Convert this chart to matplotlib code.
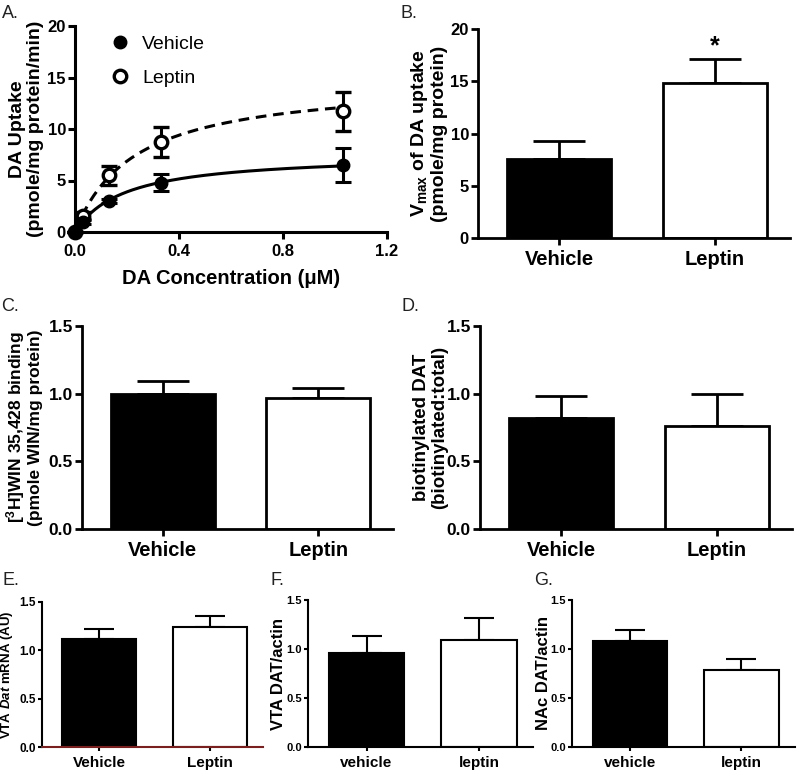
import matplotlib
matplotlib.use("Agg")
import matplotlib.pyplot as plt
import numpy as np
from matplotlib.lines import Line2D

plt.rcParams['font.family'] = ['Liberation Sans', 'DejaVu Sans']
plt.rcParams['font.weight'] = 'bold'
plt.rcParams['mathtext.fontset'] = 'custom'
plt.rcParams['mathtext.rm'] = 'Liberation Sans:bold'
plt.rcParams['mathtext.bf'] = 'Liberation Sans:bold'
plt.rcParams['mathtext.it'] = 'Liberation Sans:bold:italic'

# Panel A: uptake kinetics
conc = [0, 0.03, 0.13, 0.33, 1.03]
veh_uptake = [0, 1.0, 3.0, 4.8, 6.5]
veh_err = [0, 0.2, 0.2, 0.85, 1.65]
lep_uptake = [0, 1.6, 5.5, 8.7, 11.7]
lep_err = [0, 0.3, 0.95, 1.45, 1.9]
km = {"Vehicle": 0.19, "Leptin": 0.23}

# Bar panels (mean, SEM) : Vehicle, Leptin
groups_upper = ["Vehicle", "Leptin"]
groups_lower = ["vehicle", "leptin"]
vmax_mean = [7.6, 14.8]
vmax_err = [1.65, 2.3]
win_mean = [0.997, 0.965]
win_err = [0.095, 0.08]
biot_mean = [0.817, 0.763]
biot_err = [0.167, 0.234]
mrna_mean = [1.117, 1.239]
mrna_err = [0.105, 0.115]
vta_mean = [0.963, 1.095]
vta_err = [0.165, 0.226]
nac_mean = [1.08, 0.79]
nac_err = [0.11, 0.11]

W, H = 800, 770
fig = plt.figure(figsize=(W / 100, H / 100), dpi=100)


def px_axes(l, t, r, b):
    return fig.add_axes([l / W, 1 - b / H, (r - l) / W, (b - t) / H])


def place_ylabel(ax, right_px):
    # put the right edge of the y label block at a given pixel column
    l = ax.get_position().x0 * W
    w = ax.get_position().width * W
    ax.yaxis.set_label_coords((right_px - l) / w, 0.5)


def style(ax, lw=2.0, tick_size=11, tick_len=5, pad=1.5):
    for s in ("top", "right"):
        ax.spines[s].set_visible(False)
    for s in ("left", "bottom"):
        ax.spines[s].set_linewidth(lw)
    ax.tick_params(width=lw, length=tick_len, labelsize=tick_size, direction="out", pad=pad)
    for lab in ax.get_xticklabels() + ax.get_yticklabels():
        lab.set_fontweight("bold")


def bar_panel(ax, labels, mean, err, yticks, ylim, fmt, lw, cap, cat_size, tick_size,
              tick_len, pad=1.5):
    x = np.arange(len(labels))
    ax.bar(x, mean, width=0.67, color=["black", "white"], edgecolor="black",
           linewidth=lw, zorder=2)
    ax.errorbar(x, mean, yerr=[np.zeros(len(err)), err], fmt="none", ecolor="black",
                elinewidth=lw, capsize=cap, capthick=lw, zorder=1)
    ax.set_xlim(-0.52, 1.48)
    ax.set_ylim(*ylim)
    ax.set_yticks(yticks)
    ax.set_yticklabels([fmt.format(v) for v in yticks])
    ax.set_xticks(x)
    style(ax, lw=lw, tick_size=tick_size, tick_len=tick_len, pad=pad)
    ax.set_xticklabels(labels, fontsize=cat_size, fontweight="bold")
    ax.tick_params(axis="x", pad=pad + 2)


# ---- A ----
axA = px_axes(75, 26, 387, 232)
xs = np.linspace(0, conc[-1], 200)
axA.plot(xs, vmax_mean[0] * xs / (km["Vehicle"] + xs), color="black", lw=2.2)
axA.plot(xs, vmax_mean[1] * xs / (km["Leptin"] + xs), color="black", lw=2.2,
         dashes=(3.5, 2.2))
axA.errorbar(conc, lep_uptake, yerr=lep_err, fmt="o", color="black", mfc="white",
             mec="black", mew=2.4, ms=9, elinewidth=2.2, capsize=6, capthick=2.2,
             clip_on=False, zorder=3)
axA.errorbar(conc, veh_uptake, yerr=veh_err, fmt="o", color="black", ms=9,
             elinewidth=2.2, capsize=6, capthick=2.2, clip_on=False, zorder=4)
axA.set_xlim(0, 1.2)
axA.set_ylim(0, 20)
axA.set_xticks([0, 0.4, 0.8, 1.2])
axA.set_xticklabels(["0.0", "0.4", "0.8", "1.2"])
axA.set_yticks([0, 5, 10, 15, 20])
style(axA, lw=2.2, tick_size=12)
axA.tick_params(axis="x", pad=4)
axA.set_xlabel("DA Concentration (μM)", fontsize=14.5, fontweight="bold", labelpad=7)
axA.set_ylabel("DA Uptake\n(pmole/mg protein/min)", fontsize=14, fontweight="bold",
               linespacing=1.1)
place_ylabel(axA, 44)
handles = [Line2D([], [], ls="none", marker="o", color="black", ms=9),
           Line2D([], [], ls="none", marker="o", mfc="white", mec="black", mew=2.4, ms=9)]
axA.legend(handles, groups_upper, loc="upper left", bbox_to_anchor=(0.04, 1.04),
           frameon=False, prop={"size": 14, "weight": "normal"}, labelspacing=0.85,
           handletextpad=0.4, handlelength=1.5)

# ---- B ----
axB = px_axes(478, 29, 790, 238)
bar_panel(axB, groups_upper, vmax_mean, vmax_err, [0, 5, 10, 15, 20], (0, 20), "{:.0f}",
          2.0, 19, 14.5, 12, 5)
axB.set_ylabel(r"V$_{\mathrm{max}}$ of DA uptake" + "\n(pmole/mg protein)",
               fontsize=14, fontweight="bold", linespacing=1.1)
place_ylabel(axB, 448)
axB.text(1, vmax_mean[1] + vmax_err[1] + 0.1, "*", ha="center", va="bottom",
         fontsize=18, fontweight="bold")

# ---- C ----
axC = px_axes(82, 326, 393, 529)
bar_panel(axC, groups_upper, win_mean, win_err, [0, 0.5, 1.0, 1.5], (0, 1.5), "{:.1f}",
          2.0, 19, 14.5, 12.5, 5)
axC.set_ylabel(r"[$^{3}$H]WIN 35,428 binding" + "\n(pmole WIN/mg protein)",
               fontsize=12.5, fontweight="bold", linespacing=1.05)
place_ylabel(axC, 43)

# ---- D ----
axD = px_axes(480, 326, 792, 529)
bar_panel(axD, groups_upper, biot_mean, biot_err, [0, 0.5, 1.0, 1.5], (0, 1.5), "{:.1f}",
          2.0, 19, 14.5, 12.5, 5)
axD.set_ylabel("biotinylated DAT\n(biotinylated:total)", fontsize=13.5,
               fontweight="bold", linespacing=1.05)
place_ylabel(axD, 448)

# ---- E, F, G ----
axE = px_axes(42, 602, 263, 747)
bar_panel(axE, groups_upper, mrna_mean, mrna_err, [0, 0.5, 1.0, 1.5], (0, 1.5), "{:.1f}",
          1.5, 11, 11, 8.5, 3, pad=1.5)
axE.spines["bottom"].set_color("#7a1f1f")
axE.set_ylabel(r"VTA $Dat$ mRNA (AU)", fontsize=9.5, fontweight="bold")
place_ylabel(axE, 15)

axF = px_axes(308, 600, 533, 747)
bar_panel(axF, groups_lower, vta_mean, vta_err, [0, 0.5, 1.0, 1.5], (0, 1.5), "{:.1f}",
          1.5, 11, 11, 8, 3, pad=1.5)
axF.set_ylabel("VTA DAT/actin", fontsize=12, fontweight="bold")
place_ylabel(axF, 286)

axG = px_axes(572, 600, 795, 747)
bar_panel(axG, groups_lower, nac_mean, nac_err, [0, 0.5, 1.0, 1.5], (0, 1.5), "{:.1f}",
          1.5, 11, 11, 8, 3, pad=1.5)
axG.set_ylabel("NAc DAT/actin", fontsize=12, fontweight="bold")
place_ylabel(axG, 551)

# panel letters
for letter, (px, py) in {"A.": (2, 5), "B.": (401, 5), "C.": (1, 298), "D.": (402, 298),
                         "E.": (2, 572), "F.": (270, 572), "G.": (534, 572)}.items():
    fig.text(px / W, 1 - py / H, letter, ha="left", va="top", fontsize=13,
             fontweight="normal", color="#222222")

fig.savefig("out.png", dpi=100)
